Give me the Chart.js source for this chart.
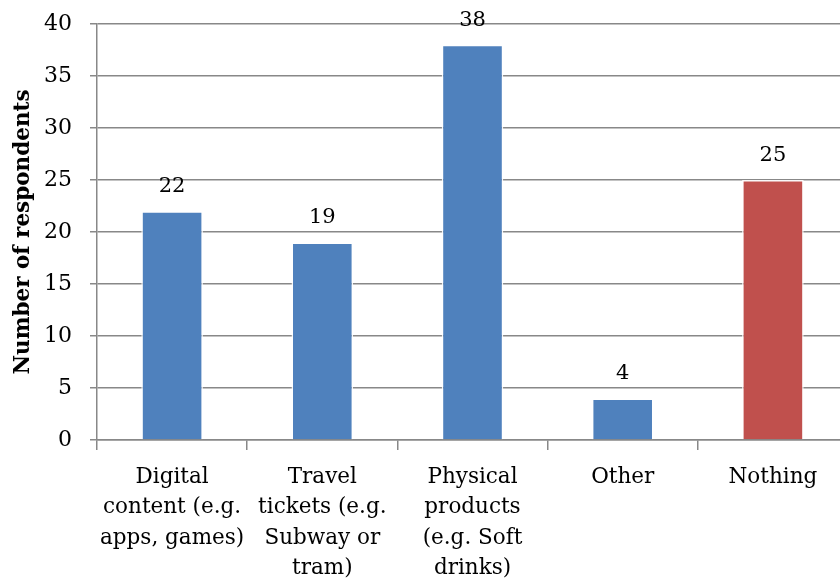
<!DOCTYPE html>
<html>
<head>
<meta charset="utf-8">
<script src="https://cdn.jsdelivr.net/npm/chart.js@4.4.1/dist/chart.umd.min.js"></script>
<style>
  html, body { margin: 0; padding: 0; background: #fff; overflow: hidden; }
  #wrap { width: 848px; height: 583px; }
</style>
</head>
<body>
<div id="wrap"><canvas id="chart"></canvas></div>
<script>
const categories = [
    ['Digital', 'content (e.g.', 'apps, games)'],
    ['Travel', 'tickets (e.g.', 'Subway or', 'tram)'],
    ['Physical', 'products', '(e.g. Soft', 'drinks)'],
    ['Other'],
    ['Nothing']
];
const respondents = [22, 19, 38, 4, 25];
const barColors = ['#4F81BD', '#4F81BD', '#4F81BD', '#4F81BD', '#C0504D'];
const yTicks = [0, 5, 10, 15, 20, 25, 30, 35, 40];

const FONT = "'DejaVu Serif', serif";

// value printed above each bar
const valueLabels = {
    id: 'valueLabels',
    afterDatasetsDraw(chart) {
        const ctx = chart.ctx;
        const meta = chart.getDatasetMeta(0);
        ctx.save();
        ctx.font = '21px ' + FONT;
        ctx.fillStyle = '#000';
        ctx.textAlign = 'center';
        ctx.textBaseline = 'bottom';
        meta.data.forEach((bar, i) => {
            ctx.fillText(String(respondents[i]), bar.x, bar.y - 14);
        });
        ctx.restore();
    }
};

new Chart(document.querySelector('#chart'), {
    type: 'bar',
    data: {
        labels: categories,
        datasets: [{
            label: 'Number of respondents',
            data: respondents,
            backgroundColor: barColors,
            borderColor: 'rgba(255,255,255,0.9)',
            borderWidth: 1.5,
            categoryPercentage: 0.41,
            barPercentage: 1
        }]
    },
    options: {
        responsive: true,
        maintainAspectRatio: false,
        animation: false,
        layout: { padding: { top: 24, right: 0, left: 0, bottom: 0 } },
        plugins: {
            legend: { display: false },
            tooltip: { enabled: false }
        },
        scales: {
            x: {
                grid: {
                    offset: true,
                    drawOnChartArea: false,
                    color: '#888',
                    lineWidth: 1.5,
                    tickLength: 10
                },
                border: { color: '#888', width: 1.5 },
                ticks: {
                    color: '#000',
                    font: { family: FONT, size: 21.5, lineHeight: 1.42 },
                    padding: 12,
                    maxRotation: 0,
                    autoSkip: false
                },
                afterFit(scale) { scale.height = 143; }
            },
            y: {
                min: 0,
                max: 40,
                afterBuildTicks(scale) { scale.ticks = yTicks.map(v => ({ value: v })); },
                grid: {
                    color: '#888',
                    lineWidth: 1.5,
                    tickLength: 7
                },
                border: { color: '#888', width: 1.5 },
                ticks: {
                    color: '#000',
                    font: { family: FONT, size: 22 },
                    padding: 18
                },
                title: {
                    display: true,
                    text: 'Number of respondents',
                    color: '#000',
                    font: { family: FONT, size: 21.5, weight: 'bold' },
                    padding: { top: 11, bottom: 0 }
                },
                afterFit(scale) {
                    scale.width = 97;
                    // the top label may poke above the plot; let layout padding decide
                    scale.paddingTop = 0;
                    scale.paddingBottom = 0;
                }
            }
        }
    },
    plugins: [valueLabels]
});
</script>
</body>
</html>
